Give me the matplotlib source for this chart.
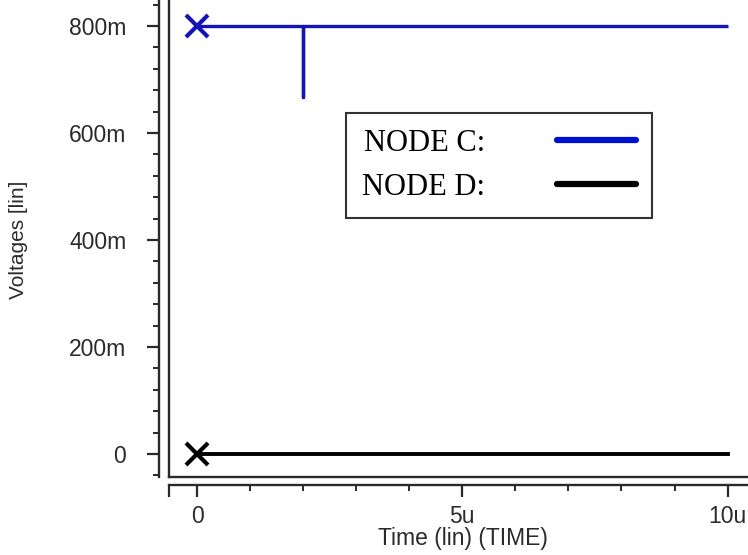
import matplotlib
matplotlib.use("Agg")
import matplotlib.pyplot as plt
from matplotlib.lines import Line2D
from matplotlib.ticker import FixedLocator, MultipleLocator

plt.rcParams["font.family"] = ["Liberation Sans", "DejaVu Sans"]

# transient result, seconds / volts
time_c = [0.0, 2e-6, 2e-6, 2e-6, 10e-6]
node_c = [0.8, 0.8, 0.667, 0.8, 0.8]
time_d = [0.0, 10e-6]
node_d = [0.0, 0.0]

y_ticks = [0.0, 0.2, 0.4, 0.6, 0.8]
y_labels = ["0", "200m", "400m", "600m", "800m"]
x_ticks = [0.0, 5e-6, 10e-6]
x_labels = ["0", "5u", "10u"]

blue = "#1414b4"
ink = "#2a2a2a"
W, H = 748, 555
fig = plt.figure(figsize=(W / 100, H / 100), dpi=100)
# plot frame runs past the top and right edge of the figure
left, bottom, right, top = 169, 477, 770, -5
ax = fig.add_axes([left / W, (H - bottom) / H, (right - left) / W, (bottom - top) / H])

x0 = -0.53e-6
ax.set_xlim(x0, 10.8e-6)
ax.set_ylim(-0.043, 0.858)

ax.plot(time_c, node_c, color=blue, lw=2.4, solid_capstyle="butt")
ax.plot(time_d, node_d, color="black", lw=2.8)
ax.plot(time_c[0], node_c[0], marker="x", ms=16, mew=3, color=blue)
ax.plot(time_d[0], node_d[0], marker="x", ms=16, mew=3, color="black")

# detached axis lines, frame drawn separately
for s in ["top", "right"]:
    ax.spines[s].set_visible(False)
ax.spines["left"].set_position(("outward", 7.2))
ax.spines["bottom"].set_position(("outward", 5.8))
for s in ["left", "bottom"]:
    ax.spines[s].set_linewidth(1.7)
    ax.spines[s].set_color(ink)
ax.plot([0, 0], [0, 1.2], transform=ax.transAxes, color=ink, lw=1.7, clip_on=False)
ax.plot([0, 1.2], [0, 0], transform=ax.transAxes, color=ink, lw=1.7, clip_on=False)

ax.yaxis.set_major_locator(FixedLocator(y_ticks))
ax.set_yticklabels(y_labels)
ax.yaxis.set_minor_locator(MultipleLocator(0.04))
ax.xaxis.set_major_locator(FixedLocator([x0] + x_ticks))
ax.set_xticklabels([""] + x_labels)
ax.xaxis.set_minor_locator(FixedLocator([i * 1e-6 for i in range(1, 11)]))

ax.tick_params(axis="both", which="major", direction="out", length=8.5, width=1.6,
               labelsize=16.5, labelcolor=ink, color=ink)
ax.tick_params(axis="both", which="minor", direction="out", length=4, width=1.4, color=ink)
ax.tick_params(axis="y", pad=15)
ax.tick_params(axis="x", pad=6)

fig.text(463 / W, 1 - 538 / H, "Time (lin) (TIME)", fontsize=16.5, color=ink,
         ha="center", va="center")
fig.text(19 / W, 1 - 240 / H, "Voltages [lin]", rotation=90, fontsize=15,
         color=ink, ha="center", va="center")

handles = [Line2D([], [], color="#0010d0", lw=4.5, solid_capstyle="round"),
           Line2D([], [], color="black", lw=4.5, solid_capstyle="round")]
leg = ax.legend(handles, ["NODE C:", "NODE D:"], markerfirst=False,
                loc="upper left", bbox_to_anchor=(346 / W, 1 - 113 / H),
                bbox_transform=fig.transFigure, borderaxespad=0,
                fancybox=False, framealpha=1, edgecolor="#333",
                borderpad=0.52, handlelength=2.6, handletextpad=2.35,
                labelspacing=0.5, prop={"family": "Liberation Serif", "size": 22})
leg.get_frame().set_linewidth(1.5)

fig.savefig("out.png", dpi=100)
